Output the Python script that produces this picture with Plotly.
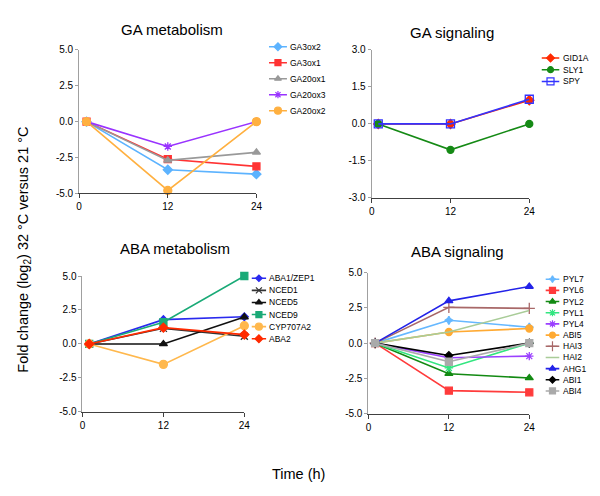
import plotly.graph_objects as go

# ---------------- data ----------------
hours = [1, 12, 24]
x_tick_vals = [0, 12, 24]
x_tick_text = ["0", "12", "24"]

y_ticks_5 = [-5.0, -2.5, 0.0, 2.5, 5.0]
y_ticks_5_text = ["-5.0", "-2.5", "0.0", "2.5", "5.0"]
y_ticks_3 = [-3.0, -1.5, 0.0, 1.5, 3.0]
y_ticks_3_text = ["-3.0", "-1.5", "0.0", "1.5", "3.0"]

ga_met_names = ["GA3ox2", "GA3ox1", "GA20ox1", "GA20ox3", "GA20ox2"]
ga_met_values = [
    [0, -3.35, -3.66],
    [0, -2.62, -3.12],
    [0, -2.70, -2.14],
    [0, -1.73, 0.0],
    [0, -4.80, 0.0],
]

ga_sig_names = ["GID1A", "SLY1", "SPY"]
ga_sig_values = [
    [0, 0.0, 0.96],
    [0, -1.05, 0.0],
    [0, 0.0, 1.0],
]

aba_met_names = ["ABA1/ZEP1", "NCED1", "NCED5", "NCED9", "CYP707A2", "ABA2"]
aba_met_values = [
    [0, 1.79, 2.0],
    [0, 1.15, 0.57],
    [0, 0.0, 1.98],
    [0, 1.60, 5.0],
    [0, -1.50, 1.34],
    [0, 1.20, 0.69],
]

aba_sig_names = ["PYL7", "PYL6", "PYL2", "PYL1", "PYL4", "ABI5",
                 "HAI3", "HAI2", "AHG1", "ABI1", "ABI4"]
aba_sig_values = [
    [0, 1.62, 1.13],
    [0, -3.37, -3.49],
    [0, -2.17, -2.47],
    [0, -1.76, 0.0],
    [0, -1.04, -0.92],
    [0, 0.79, 1.04],
    [0, 2.54, 2.47],
    [0, 0.79, 2.31],
    [0, 3.00, 4.02],
    [0, -0.88, 0.0],
    [0, -1.32, 0.0],
]

# ---------------- styles ----------------
ga_met_styles = [
    ("#5CB3FF", "diamond", 7),
    ("#FF3333", "square", 7),
    ("#999999", "triangle-up", 7),
    ("#9933FF", "asterisk-open", 7),
    ("#FFB040", "circle", 8),
]
ga_sig_styles = [
    ("#FF2A00", "diamond", 7),
    ("#158A15", "circle", 7),
    ("#3333FF", "square-open", 8),
]
aba_met_styles = [
    ("#2A2AEE", "diamond", 6),
    ("#333333", "x-thin-open", 7),
    ("#111111", "triangle-up", 7),
    ("#1AAA77", "square", 7),
    ("#FFB84D", "circle", 8),
    ("#FF2A00", "diamond", 7),
]
aba_sig_styles = [
    ("#66B8FF", "star-diamond", 6),
    ("#FF3B3B", "square", 7),
    ("#138A13", "triangle-up", 7),
    ("#33E680", "asterisk-open", 7),
    ("#9B40FF", "asterisk-open", 7),
    ("#FFAA33", "circle", 7),
    ("#A86868", "cross-thin-open", 8),
    ("#A9CC98", None, 0),
    ("#2323E8", "triangle-up", 7),
    ("#000000", "diamond", 6),
    ("#AAAAAA", "square", 7),
]

W, H = 600, 496
FONT = "Liberation Sans, Arial, sans-serif"


def fx(px):
    return px / W


def fy(py):
    return 1 - py / H


panels = [
    dict(names=ga_met_names, values=ga_met_values, styles=ga_met_styles,
         title="GA metabolism", box=(77.3, 257.3, 45, 192), yr=(-5, 5),
         yt=(y_ticks_5, y_ticks_5_text), tpos=(172, 24),
         leg=(270, 288.3, 41.7, 16.4)),
    dict(names=ga_sig_names, values=ga_sig_values, styles=ga_sig_styles,
         title="GA signaling", box=(374.3, 534.3, 45, 196.7), yr=(-3, 3),
         yt=(y_ticks_3, y_ticks_3_text), tpos=(456, 26.7),
         leg=(546.7, 565, 53.3, 12.0)),
    dict(names=aba_met_names, values=aba_met_values, styles=aba_met_styles,
         title="ABA metabolism", box=(80.7, 245, 276.7, 416), yr=(-5, 5),
         yt=(y_ticks_5, y_ticks_5_text), tpos=(174.7, 249),
         leg=(252.3, 267.3, 279, 12.4)),
    dict(names=aba_sig_names, values=aba_sig_values, styles=aba_sig_styles,
         title="ABA signaling", box=(371, 534.3, 273.3, 417.7), yr=(-5, 5),
         yt=(y_ticks_5, y_ticks_5_text), tpos=(461.8, 251.7),
         leg=(550.7, 565, 280, 11.45)),
]

fig = go.Figure()
layout = dict(
    width=W, height=H, margin=dict(l=0, r=0, t=0, b=0),
    paper_bgcolor="white", plot_bgcolor="white",
    showlegend=False, font=dict(family=FONT, color="black"),
    annotations=[],
)

for k, p in enumerate(panels, start=1):
    sfx = "" if k == 1 else str(k)
    x0, x1, y0, y1 = p["box"]
    layout["xaxis" + sfx] = dict(
        domain=[fx(x0), fx(x1)], range=[0, 24], anchor="y" + sfx,
        tickvals=x_tick_vals, ticktext=x_tick_text,
        showline=True, linecolor="#404040", linewidth=1,
        ticks="outside", ticklen=4, tickcolor="#404040",
        showgrid=False, zeroline=False, tickfont=dict(size=10, family=FONT),
    )
    layout["yaxis" + sfx] = dict(
        domain=[fy(y1), fy(y0)], range=list(p["yr"]), anchor="x" + sfx,
        tickvals=p["yt"][0], ticktext=p["yt"][1],
        showline=True, linecolor="#A0A0A0", linewidth=1,
        ticks="outside", ticklen=3, tickcolor="#A0A0A0",
        showgrid=False, zeroline=False, tickfont=dict(size=10, family=FONT),
    )
    for name, vals, (col, sym, sz) in zip(p["names"], p["values"], p["styles"]):
        tr = dict(x=hours, y=vals, name=name, xaxis="x" + sfx, yaxis="y" + sfx,
                  line=dict(color=col, width=1.6), cliponaxis=False)
        if sym is None:
            tr["mode"] = "lines"
        else:
            tr["mode"] = "lines+markers"
            tr["marker"] = dict(color=col, symbol=sym, size=sz,
                                line=dict(color=col, width=1.3))
        fig.add_trace(go.Scatter(**tr))

    # title
    layout["annotations"].append(dict(
        text=p["title"], x=fx(p["tpos"][0]), y=fy(p["tpos"][1]),
        xref="paper", yref="paper", xanchor="center", yanchor="middle",
        showarrow=False, font=dict(size=15, family=FONT)))

    # legend keys (own hidden axis, rows from series order)
    lk = k + 4
    lx0, lx1, ly0, sp = p["leg"]
    n = len(p["names"])
    layout["xaxis%d" % lk] = dict(domain=[fx(lx0), fx(lx1)], range=[0, 1],
                                  visible=False, anchor="y%d" % lk)
    layout["yaxis%d" % lk] = dict(domain=[fy(ly0 + (n - 0.5) * sp), fy(ly0 - sp / 2)],
                                  range=[n - 0.5, -0.5], visible=False,
                                  anchor="x%d" % lk)
    for i, (name, (col, sym, sz)) in enumerate(zip(p["names"], p["styles"])):
        fig.add_trace(go.Scatter(x=[0, 1], y=[i, i], mode="lines",
                                 xaxis="x%d" % lk, yaxis="y%d" % lk,
                                 line=dict(color=col, width=1.6),
                                 cliponaxis=False, hoverinfo="skip"))
        if sym is not None:
            fig.add_trace(go.Scatter(x=[0.5], y=[i], mode="markers",
                                     xaxis="x%d" % lk, yaxis="y%d" % lk,
                                     marker=dict(color=col, symbol=sym, size=max(sz - 1, 5),
                                                 line=dict(color=col, width=1.2)),
                                     cliponaxis=False, hoverinfo="skip"))
        layout["annotations"].append(dict(
            text=name, x=1, y=i, xref="x%d" % lk, yref="y%d" % lk,
            xanchor="left", yanchor="middle", xshift=1, showarrow=False,
            font=dict(size=8.5, family=FONT)))

# shared axis titles
layout["annotations"].append(dict(
    text="Fold change (log<sub>2</sub>) 32 °C versus 21 °C",
    x=fx(21), y=fy(250), xref="paper", yref="paper", textangle=-90,
    xanchor="center", yanchor="middle", showarrow=False,
    font=dict(size=14.5, family=FONT)))
layout["annotations"].append(dict(
    text="Time (h)", x=fx(300), y=fy(480), xref="paper", yref="paper",
    xanchor="center", yanchor="middle", showarrow=False,
    font=dict(size=14.5, family=FONT)))

fig.update_layout(**layout)
fig.write_html("out.html", config={"displayModeBar": False},
               post_script="document.body.style.margin='0';document.body.style.overflow='hidden';")
